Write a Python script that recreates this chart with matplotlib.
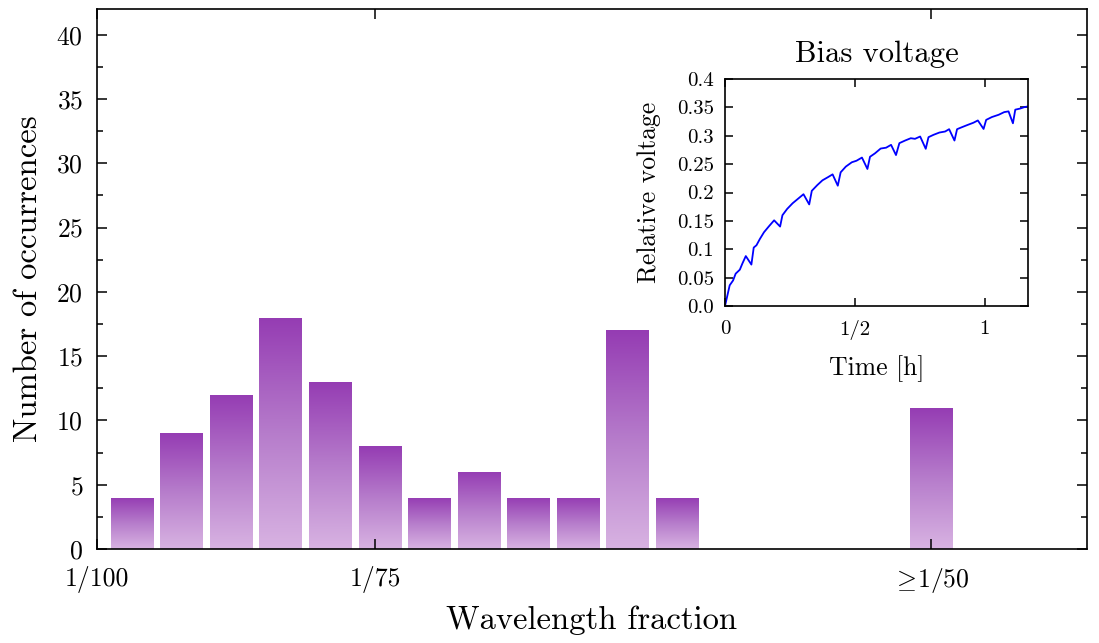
import numpy as np
import matplotlib
matplotlib.use("Agg")
import matplotlib.pyplot as plt
from matplotlib.colors import LinearSegmentedColormap
from matplotlib.ticker import MultipleLocator, FuncFormatter

plt.rcParams['font.family'] = ['cmr10', 'DejaVu Serif']
plt.rcParams['mathtext.fontset'] = 'cm'
plt.rcParams['axes.unicode_minus'] = False
plt.rcParams['axes.formatter.use_mathtext'] = True

# histogram: bin centres (wavelength fraction) and counts
bin_centers = [0.01042, 0.01101, 0.01161, 0.01220, 0.01280, 0.01339,
               0.01398, 0.01458, 0.01517, 0.01577, 0.01636, 0.01695, 0.02000]
counts = [4, 9, 12, 18, 13, 8, 4, 6, 4, 4, 17, 4, 11]
xtick_pos = [1 / 100, 1 / 75, 1 / 50]
xtick_lab = ['1/100', '1/75', r'$\geq\!1/50$']

# inset: bias voltage vs time
t_hours = [0.0, 0.018, 0.031, 0.041, 0.057, 0.067, 0.080, 0.1015, 0.1105, 0.121,
           0.134, 0.150, 0.170, 0.189, 0.212, 0.221, 0.239, 0.260, 0.281, 0.302,
           0.324, 0.334, 0.355, 0.375, 0.396, 0.414, 0.434, 0.445, 0.465, 0.488,
           0.506, 0.527, 0.548, 0.558, 0.577, 0.599, 0.620, 0.639, 0.658, 0.671,
           0.693, 0.715, 0.731, 0.751, 0.7725, 0.783, 0.802, 0.825, 0.847, 0.8625,
           0.883, 0.893, 0.911, 0.933, 0.956, 0.973, 0.995, 1.005, 1.027, 1.053,
           1.0745, 1.091, 1.108, 1.117, 1.136, 1.152, 1.166]
rel_voltage = [0.0, 0.0365, 0.045, 0.057, 0.064, 0.075, 0.088, 0.073, 0.103, 0.107,
               0.118, 0.130, 0.141, 0.151, 0.140, 0.160, 0.171, 0.181, 0.189, 0.197,
               0.179, 0.203, 0.213, 0.2215, 0.227, 0.232, 0.212, 0.2356, 0.2457, 0.2533,
               0.256, 0.2616, 0.2415, 0.263, 0.269, 0.2775, 0.279, 0.284, 0.266, 0.287,
               0.2916, 0.2957, 0.2946, 0.2987, 0.277, 0.2975, 0.3016, 0.3057, 0.3075, 0.3116,
               0.2916, 0.3116, 0.315, 0.319, 0.323, 0.327, 0.312, 0.328, 0.333, 0.337,
               0.3417, 0.343, 0.322, 0.346, 0.348, 0.3505, 0.3517]

fig = plt.figure(figsize=(10.99, 6.43), dpi=100)
ax = fig.add_axes([0.0883, 0.1462, 0.9007, 0.8398])

cmap = LinearSegmentedColormap.from_list('purp', ['#d8b3e2', '#b67ccb', '#953cb3'])
grad = np.linspace(0, 1, 256).reshape(-1, 1)
width = 0.000505
bars = ax.bar(bin_centers, counts, width=width, color='none', edgecolor='none')
for b in bars:
    x0, y0 = b.get_x(), b.get_y()
    im = ax.imshow(grad, cmap=cmap, aspect='auto', origin='lower',
                   extent=[x0, x0 + b.get_width(), y0, y0 + b.get_height()],
                   interpolation='bicubic', zorder=1)
    im.set_clip_path(b)

ax.set_xlim(0.01, 0.021871)
ax.set_ylim(0, 42)
ax.set_xticks(xtick_pos)
ax.set_xticklabels(xtick_lab)
ax.yaxis.set_major_locator(MultipleLocator(5))
ax.yaxis.set_minor_locator(MultipleLocator(2.5))
ax.tick_params(which='both', direction='in', top=True, right=True, labelsize=18.5, width=1.1)
ax.tick_params(which='major', length=7)
ax.tick_params(which='minor', length=4)
ax.tick_params(axis='x', pad=12)
ax.tick_params(axis='y', pad=10)
for s in ax.spines.values():
    s.set_linewidth(1.2)
ax.set_xlabel('Wavelength fraction', fontsize=23.5, labelpad=8)
ax.set_ylabel('Number of occurrences', fontsize=23.5, labelpad=10)

# inset
ins = fig.add_axes([0.6597, 0.5241, 0.2757, 0.353])
ins.plot(t_hours, rel_voltage, color='#0000ff', lw=1.3)
ins.set_xlim(0, 1.166)
ins.set_ylim(0, 0.4)
ins.set_xticks([0, 0.5, 1])
ins.set_xticklabels(['0', '1/2', '1'])
ins.yaxis.set_major_locator(MultipleLocator(0.05))


def vfmt(v, pos):
    if abs(v) < 1e-9:
        return '0.0'
    return ('%.2f' % v).rstrip('0')


ins.yaxis.set_major_formatter(FuncFormatter(vfmt))
ins.tick_params(direction='in', top=True, right=True, labelsize=15, length=6, width=1.1)
ins.tick_params(axis='x', pad=10)
ins.tick_params(axis='y', pad=8)
for s in ins.spines.values():
    s.set_linewidth(1.2)
ins.set_title('Bias voltage', fontsize=22, pad=12)
ins.set_xlabel('Time [h]', fontsize=18.5, labelpad=11)
ins.set_ylabel('Relative voltage', fontsize=18.5, labelpad=11)

fig.savefig('out.png', dpi=100)
